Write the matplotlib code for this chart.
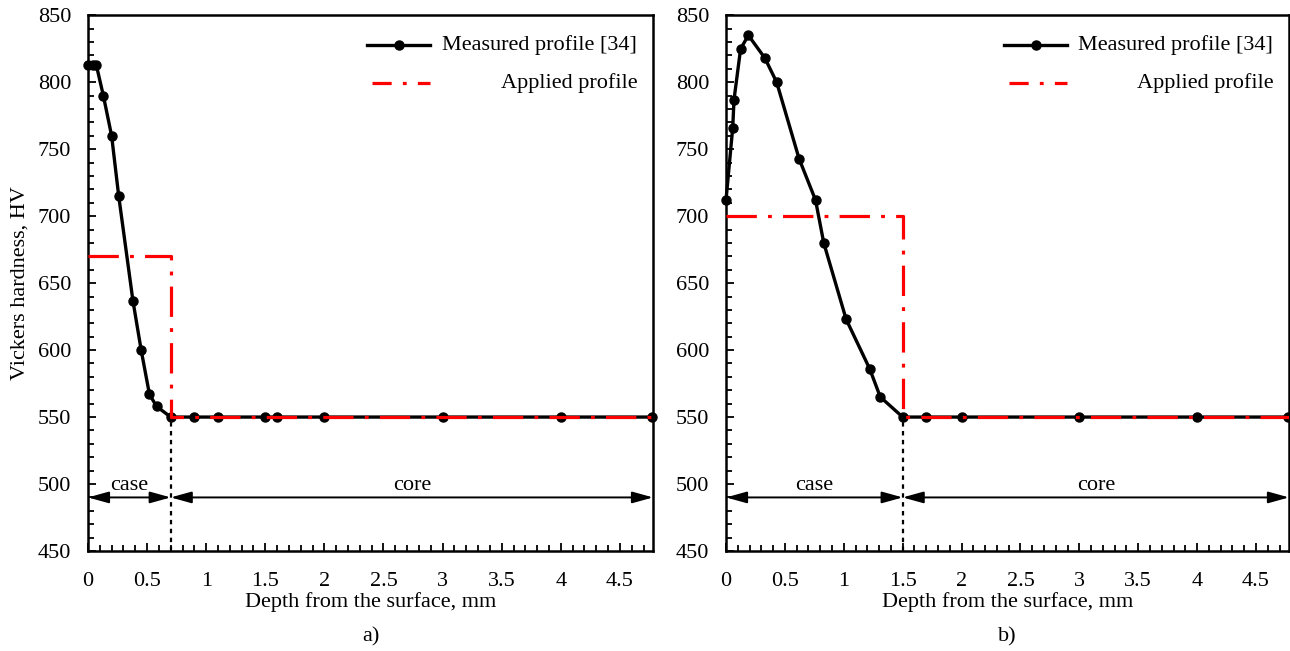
import numpy as np
import matplotlib.pyplot as plt
from matplotlib.ticker import MultipleLocator

plt.rcParams['font.family'] = ['Liberation Serif', 'DejaVu Serif']

# panel a) measured / applied profiles
depth_a = [0, 0.04, 0.07, 0.13, 0.2, 0.26, 0.38, 0.45, 0.52, 0.58, 0.7,
           0.9, 1.1, 1.5, 1.6, 2.0, 3.0, 4.0, 4.77]
hv_a = [813, 813, 813, 790, 760, 715, 637, 600, 567, 558, 550,
        550, 550, 550, 550, 550, 550, 550, 550]
case_a = 0.7
applied_case_a = 670

# panel b)
depth_b = [0, 0.057, 0.068, 0.124, 0.19, 0.33, 0.43, 0.62, 0.76, 0.83, 1.02,
           1.22, 1.31, 1.5, 1.7, 2.0, 3.0, 4.0, 4.77]
hv_b = [712, 766, 787, 825, 835, 818, 800, 743, 712, 680, 623,
        586, 565, 550, 550, 550, 550, 550, 550]
case_b = 1.5
applied_case_b = 700

core_hv = 550
xmax = 4.78
arrow_y = 490

fig = plt.figure(figsize=(12.9, 6.51), dpi=100)
ax_a = fig.add_axes([0.0682, 0.1536, 0.438, 0.823])
ax_b = fig.add_axes([0.5628, 0.1536, 0.4364, 0.823])

FS = 16
DASH = (9.5, 3.5, 1.2, 3.5)


def draw_panel(ax, depth, hv, case_depth, applied_hv, tag):
    ax.plot(depth, hv, color='black', lw=2.4, marker='o', ms=6.5, zorder=3,
            clip_on=False)
    ax.plot([0, case_depth, case_depth, xmax],
            [applied_hv, applied_hv, core_hv, core_hv],
            color='red', lw=2.3, dashes=DASH, zorder=4)
    # case / core boundary
    ax.plot([case_depth, case_depth], [450, core_hv], color='black', lw=1.6,
            dashes=(2, 2), zorder=2)
    arrow = dict(arrowstyle='<|-|>,head_length=0.9,head_width=0.25',
                 color='black', lw=1.4, shrinkA=0, shrinkB=0, mutation_scale=14)
    ax.annotate('', xy=(0, arrow_y), xytext=(case_depth, arrow_y), arrowprops=arrow)
    ax.annotate('', xy=(case_depth, arrow_y), xytext=(xmax, arrow_y), arrowprops=arrow)
    ax.text(case_depth / 2, arrow_y + 2, 'case', ha='center', va='bottom', fontsize=FS)
    ax.text((case_depth + xmax) / 2, arrow_y + 2, 'core', ha='center', va='bottom',
            fontsize=FS)

    # legend drawn by hand so the labels are right aligned
    ax.plot([0.494, 0.605], [0.944, 0.944], transform=ax.transAxes,
            color='black', lw=2.4, clip_on=False)
    ax.plot([0.55], [0.944], transform=ax.transAxes, color='black',
            marker='o', ms=6.5, clip_on=False)
    ax.plot([0.503, 0.605], [0.873, 0.873], transform=ax.transAxes,
            color='red', lw=2.3, dashes=(6, 3.5, 1.2, 3.5), clip_on=False)
    ax.text(0.972, 0.944, 'Measured profile [34]', transform=ax.transAxes,
            ha='right', va='center', fontsize=FS)
    ax.text(0.972, 0.873, 'Applied profile', transform=ax.transAxes,
            ha='right', va='center', fontsize=FS)

    ax.set_xlim(0, xmax)
    ax.set_ylim(450, 850)
    ax.xaxis.set_major_locator(MultipleLocator(0.5))
    ax.xaxis.set_minor_locator(MultipleLocator(0.1))
    ax.yaxis.set_major_locator(MultipleLocator(50))
    ax.yaxis.set_minor_locator(MultipleLocator(10))
    ax.xaxis.set_major_formatter(plt.FuncFormatter(lambda v, p: f'{v:g}'))
    ax.tick_params(which='both', direction='in', top=False, right=False,
                   labelsize=FS, width=1.3)
    ax.tick_params(which='major', length=6)
    ax.tick_params(which='minor', length=4)
    ax.tick_params(axis='x', which='major', pad=15)
    ax.tick_params(axis='y', which='major', pad=12)
    for s in ax.spines.values():
        s.set_linewidth(1.8)
    ax.set_xlabel('Depth from the surface, mm', fontsize=FS, labelpad=1)
    ax.text(0.5, -0.142, tag, transform=ax.transAxes, ha='center', va='top',
            fontsize=FS)


draw_panel(ax_a, depth_a, hv_a, case_a, applied_case_a, 'a)')
draw_panel(ax_b, depth_b, hv_b, case_b, applied_case_b, 'b)')
ax_a.set_ylabel('Vickers hardness, HV', fontsize=FS, labelpad=6)

fig.savefig('out.png', dpi=100)
